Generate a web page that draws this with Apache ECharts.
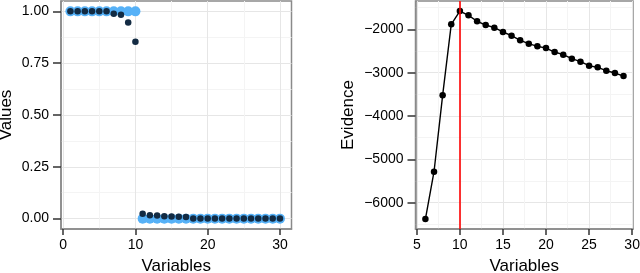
<!DOCTYPE html>
<html>
<head>
<meta charset="utf-8">
<script src="https://cdn.jsdelivr.net/npm/echarts@6/dist/echarts.min.js"></script>
<style>
html,body{margin:0;padding:0;background:#fff;}
#c{width:640px;height:273px;}
</style>
</head>
<body>
<div id="c"></div>
<script>
// Left panel data
const leftX = [1,2,3,4,5,6,7,8,9,10,11,12,13,14,15,16,17,18,19,20,21,22,23,24,25,26,27,28,29,30];
const trueValues = [1,1,1,1,1,1,1,1,1,1,0,0,0,0,0,0,0,0,0,0,0,0,0,0,0,0,0,0,0,0];
const estValues = [1,1,1,1,1,1,0.989,0.984,0.946,0.854,0.024,0.016,0.015,0.012,0.010,0.009,0.008,0.001,0.001,0.001,0.001,0.001,0.001,0.001,0.001,0.001,0.001,0.001,0.001,0.001];
const leftXTicks = [0,10,20,30];
const leftYTicks = [0,0.25,0.5,0.75,1];

// Right panel data
const rightX = [6,7,8,9,10,11,12,13,14,15,16,17,18,19,20,21,22,23,24,25,26,27,28,29];
const evidence = [-6378,-5286,-3523,-1885,-1580,-1677,-1815,-1901,-1963,-2062,-2147,-2254,-2332,-2393,-2432,-2524,-2586,-2678,-2747,-2840,-2878,-2955,-3009,-3078];
const rightXTicks = [5,10,15,20,25,30];
const rightYTicks = [-6000,-5000,-4000,-3000,-2000];
const chosenVariables = 10;

const FONT = '"Liberation Sans", Arial, Helvetica, sans-serif';
const minus = s => String(s).replace('-', '\u2212');

function xAxisCfg(grid, min, max, step, ticks) {
  return {
    type: 'value', gridIndex: grid, min: min, max: max,
    minInterval: step, maxInterval: step, splitNumber: 3,
    name: 'Variables', nameLocation: 'middle', nameGap: 29,
    nameTextStyle: {fontFamily: FONT, fontSize: 17, color: '#000'},
    axisLine: {show: true, onZero: false, lineStyle: {color: '#8a8a8a', width: 1.5}},
    axisTick: {show: true, customValues: ticks, length: 6, lineStyle: {color: '#333', width: 1.5}},
    axisLabel: {customValues: ticks, margin: 9, fontFamily: FONT, fontSize: 14, color: '#000', formatter: v => minus(v)},
    splitLine: {show: true, lineStyle: {color: '#e6e6e6', width: 1}},
    minorTick: {show: false, splitNumber: 2},
    minorSplitLine: {show: true, lineStyle: {color: '#f4f4f4', width: 1}}
  };
}
function yAxisCfg(grid, name, min, max, step, ticks, fmt, gap) {
  return {
    type: 'value', gridIndex: grid, min: min, max: max,
    minInterval: step, maxInterval: step, splitNumber: 4,
    name: name, nameLocation: 'middle', nameGap: gap, nameRotate: 90,
    nameTextStyle: {fontFamily: FONT, fontSize: 17, color: '#000'},
    axisLine: {show: true, onZero: false, lineStyle: {color: '#8a8a8a', width: 1.5}},
    axisTick: {show: true, customValues: ticks, length: 8, lineStyle: {color: '#333', width: 1.5}},
    axisLabel: {customValues: ticks, margin: 12, fontFamily: FONT, fontSize: 14, color: '#000', formatter: fmt},
    splitLine: {show: true, lineStyle: {color: '#e6e6e6', width: 1}},
    minorTick: {show: false, splitNumber: 2},
    minorSplitLine: {show: true, lineStyle: {color: '#f4f4f4', width: 1}}
  };
}

const chart = echarts.init(document.getElementById('c'), null, {renderer: 'canvas'});
chart.setOption({
  animation: false,
  backgroundColor: '#fff',
  grid: [
    {left: 61, top: 1, width: 230.5, height: 228, show: true, borderColor: '#8a8a8a', borderWidth: 1.5, backgroundColor: '#fff', containLabel: false, outerBoundsMode: 'none'},
    {left: 415.5, top: 1, width: 217.5, height: 228, show: true, borderColor: '#8a8a8a', borderWidth: 1.5, backgroundColor: '#fff', containLabel: false, outerBoundsMode: 'none'}
  ],
  xAxis: [
    xAxisCfg(0, -0.3, 31.6, 10, leftXTicks),
    xAxisCfg(1, 4.85, 30.1, 5, rightXTicks)
  ],
  yAxis: [
    yAxisCfg(0, 'Values', -0.05, 1.05, 0.25, leftYTicks, v => v.toFixed(2), 46),
    yAxisCfg(1, 'Evidence', -6607, -1347, 1000, rightYTicks, v => minus(v), 59)
  ],
  series: [
    {
      type: 'scatter', xAxisIndex: 0, yAxisIndex: 0,
      data: leftX.map((x, i) => [x, trueValues[i]]),
      symbol: 'circle', symbolSize: 10,
      itemStyle: {color: '#56B1F7', opacity: 1}, z: 2
    },
    {
      type: 'scatter', xAxisIndex: 0, yAxisIndex: 0,
      data: leftX.map((x, i) => [x, estValues[i]]),
      symbol: 'circle', symbolSize: 6.5,
      itemStyle: {color: '#132B43', opacity: 1}, z: 3
    },
    {
      type: 'line', xAxisIndex: 1, yAxisIndex: 1,
      data: rightX.map((x, i) => [x, evidence[i]]),
      symbol: 'circle', symbolSize: 6.5, showSymbol: true,
      lineStyle: {color: '#000', width: 1.4},
      itemStyle: {color: '#000'}, z: 3,
      markLine: {
        silent: true, symbol: ['none', 'none'], label: {show: false},
        lineStyle: {color: '#ff0000', width: 1.6, type: 'solid'},
        data: [{xAxis: chosenVariables}]
      }
    }
  ]
});
</script>
</body>
</html>
